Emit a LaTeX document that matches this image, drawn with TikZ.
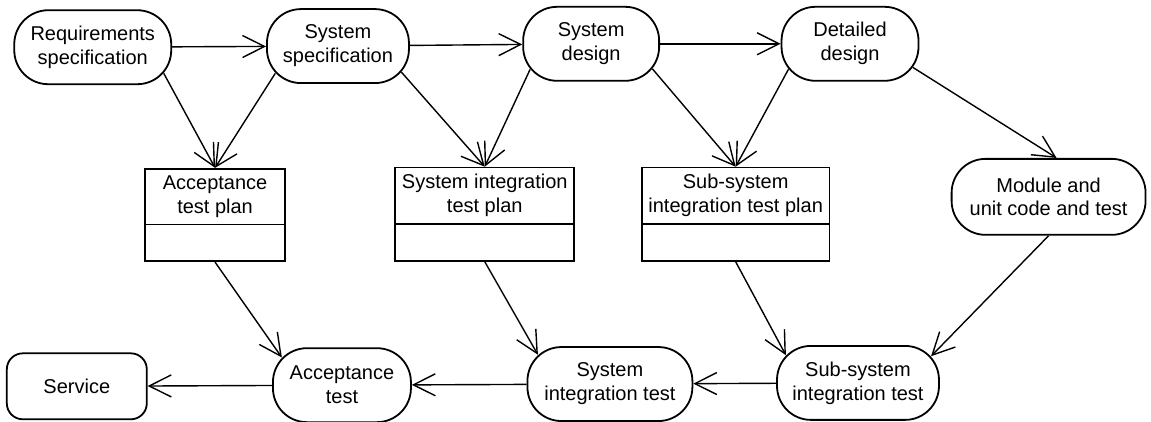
\documentclass[tikz,border=0pt]{standalone}
\usepackage{fontspec}
\setmainfont{Liberation Sans}
\usepackage{tikz}
\usetikzlibrary{arrows.meta}
\usetikzlibrary{shapes.multipart}
\tikzset{
  activity/.style={
    draw=black, line width=0.9pt, rounded corners=17pt,
    minimum height=37pt, inner sep=0pt, align=center,
  },
  finalbox/.style={
    draw=black, line width=0.9pt, rounded corners=8pt, minimum width=70pt, minimum height=33pt,
  },
  testplan/.style={
    draw=black, line width=0.9pt, rectangle split, rectangle split parts=2, align=center,
    rectangle split empty part height=8pt, rectangle split empty part depth=3.5pt,
    inner ysep=3pt, anchor=north,
  },
  flow/.style={line width=0.7pt, -{Straight Barb[length=11pt,width=11pt]}},
}

\begin{document}
\begin{tikzpicture}
    \useasboundingbox (0,0) rectangle (20.23,-7.40);
    % top row
    \node[activity, minimum width=78.5pt] (req) at (1.63,-0.83) {Requirements\\specification};
    \node[activity, minimum width=71pt] (sysspec) at (5.94,-0.81) {System\\specification};
    \node[activity, minimum width=68pt] (sysdes) at (10.39,-0.77) {System\\design};
    \node[activity, minimum width=68.5pt] (detdes) at (14.94,-0.77) {Detailed\\design};
    % test plans
    \node[testplan, minimum width=70pt] (accplan) at (3.78,-2.95) {Acceptance\\test plan\nodepart{two}};
    \node[testplan, minimum width=87.5pt] (sysplan) at (8.52,-2.93) {System integration\\test plan\nodepart{two}};
    \node[testplan, minimum width=92pt] (subplan) at (12.93,-2.93) {Sub-system\\integration test plan\nodepart{two}};
    \node[activity, minimum width=97pt, minimum height=38pt] (module) at (18.43,-3.46) {Module and\\unit code and test};
    % bottom row
    \node[finalbox] (service) at (1.35,-6.79) {Service};
    \node[activity, minimum width=69pt] (acctest) at (6.01,-6.77) {Acceptance\\test};
    \node[activity, minimum width=82.5pt] (systest) at (10.72,-6.75) {System\\integration test};
    \node[activity, minimum width=81pt] (subtest) at (15.08,-6.73) {Sub-system\\integration test};
    % diagram
    \draw[flow] (req) -- (sysspec);
    \draw[flow] (sysspec) -- (sysdes);
    \draw[flow] (sysdes) -- (detdes);
    \draw[flow] ([shift={(-4.2pt,5.9pt)}]req.south east) -- (accplan.north);
    \draw[flow] ([shift={(4.6pt,5.3pt)}]sysspec.south west) -- (accplan.north);
    \draw[flow] ([shift={(-4.2pt,5.9pt)}]sysspec.south east) -- (sysplan.north);
    \draw[flow] ([shift={(3.9pt,6.1pt)}]sysdes.south west) -- (sysplan.north);
    \draw[flow] ([shift={(-3.8pt,6.4pt)}]sysdes.south east) -- (subplan.north);
    \draw[flow] ([shift={(3.9pt,6.2pt)}]detdes.south west) -- (subplan.north);
    \draw[flow] ([shift={(-3.2pt,7.1pt)}]detdes.south east) -- ([xshift=4pt]module.north);
    \draw[flow] (module.south) -- ([shift={(-4.4pt,-5.6pt)}]subtest.north east);
    \draw[flow] (accplan.south) -- ([shift={(4.9pt,-5.1pt)}]acctest.north west);
    \draw[flow] (sysplan.south) -- ([shift={(5.7pt,-4.3pt)}]systest.north west);
    \draw[flow] (subplan.south) -- ([shift={(4.9pt,-5.1pt)}]subtest.north west);
    \draw[flow] (subtest) -- (systest);
    \draw[flow] (systest) -- (acctest);
    \draw[flow] (acctest) -- (service);
\end{tikzpicture}
\end{document}
